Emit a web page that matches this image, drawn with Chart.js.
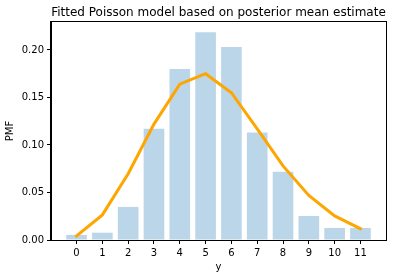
<!DOCTYPE html>
<html>
<head>
<meta charset="utf-8">
<script src="https://cdn.jsdelivr.net/npm/chart.js@4"></script>
<style>
	body { margin: 0; background: #fff; }
	canvas { display: block; }
</style>
</head>
<body>
<canvas id="myChart" width="393" height="278"></canvas>
<script>
// data
const yValues = [0, 1, 2, 3, 4, 5, 6, 7, 8, 9, 10, 11];
const observedPmf = [0.0053, 0.0077, 0.0348, 0.117, 0.180, 0.2185, 0.203, 0.113, 0.0718, 0.0253, 0.0127, 0.0127];
const fittedPmf = [0.0042, 0.0264, 0.0697, 0.122, 0.164, 0.175, 0.155, 0.117, 0.078, 0.0468, 0.0253, 0.0119];
const yTicks = [0, 0.05, 0.1, 0.15, 0.2];
const chartTitle = "Fitted Poisson model based on posterior mean estimate";

Chart.defaults.font.family = "'DejaVu Sans', sans-serif";
Chart.defaults.font.size = 10;
Chart.defaults.color = "#000";

// title centred over plot + box around the axes
const framePlugin = {
	id: "frame",
	afterDraw(chart) {
		const { ctx, chartArea } = chart;
		ctx.save();
		ctx.strokeStyle = "#000";
		ctx.lineWidth = 1;
		ctx.strokeRect(
			Math.round(chartArea.left) - 0.5,
			Math.round(chartArea.top) - 0.5,
			Math.round(chartArea.right - chartArea.left) + 1,
			Math.round(chartArea.bottom - chartArea.top) + 1
		);
		ctx.fillStyle = "#000";
		ctx.font = "12px 'DejaVu Sans', sans-serif";
		ctx.textAlign = "center";
		ctx.textBaseline = "middle";
		ctx.fillText(chartTitle, (chartArea.left + chartArea.right) / 2, 13);
		ctx.restore();
	},
};

new Chart("myChart", {
	type: "bar",
	data: {
		datasets: [
			{
				type: "line",
				data: yValues.map((v, i) => ({ x: v, y: fittedPmf[i] })),
				borderColor: "#FFA500",
				borderWidth: 3,
				borderCapStyle: "square",
				pointRadius: 0,
				tension: 0,
				order: 0,
			},
			{
				data: yValues.map((v, i) => ({ x: v, y: observedPmf[i] })),
				backgroundColor: "rgba(31, 119, 180, 0.3)",
				borderWidth: 0,
				categoryPercentage: 1,
				barPercentage: 0.8,
				order: 1,
			},
		],
	},
	options: {
		responsive: false,
		animation: false,
		layout: { padding: { top: 22, right: 7, left: 0, bottom: 0 } },
		plugins: {
			legend: { display: false },
			tooltip: { enabled: false },
		},
		scales: {
			x: {
				type: "linear",
				offset: false,
				min: -0.99,
				max: 11.99,
				afterBuildTicks: (axis) => {
					axis.ticks = yValues.map((v) => ({ value: v }));
				},
				afterFit: (axis) => {
					axis.height = 38;
				},
				ticks: { maxRotation: 0, padding: 3, autoSkip: false },
				grid: { display: true, offset: false, drawOnChartArea: false, drawTicks: true, tickLength: 4, color: "#000" },
				border: { display: true, color: "#000" },
				title: { display: true, text: "y", padding: { top: 5, bottom: 5 } },
			},
			y: {
				min: 0,
				max: 0.2294,
				afterBuildTicks: (axis) => {
					axis.ticks = yTicks.map((v) => ({ value: v }));
				},
				afterFit: (axis) => {
					axis.width = 51;
				},
				ticks: {
					padding: 3,
					callback: (v) => v.toFixed(2),
				},
				grid: { display: true, drawOnChartArea: false, drawTicks: true, tickLength: 4, color: "#000" },
				border: { display: true, color: "#000" },
				title: { display: true, text: "PMF", padding: { top: 4, bottom: 4 } },
			},
		},
	},
	plugins: [framePlugin],
});
</script>
</body>
</html>
